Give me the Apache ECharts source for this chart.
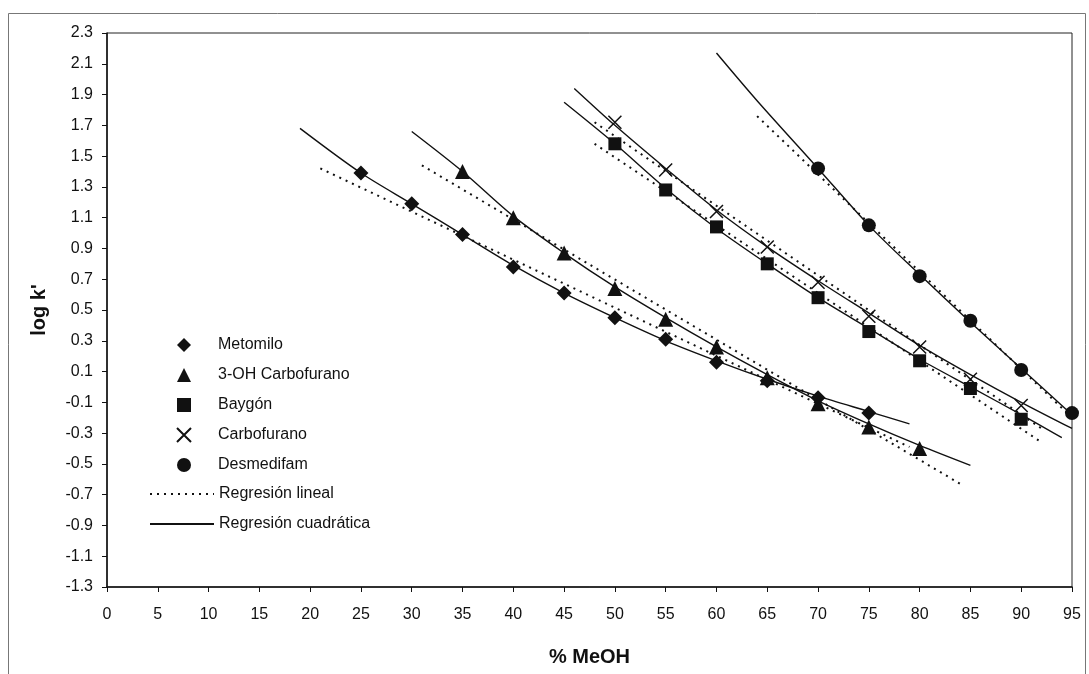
<!DOCTYPE html>
<html>
<head>
<meta charset="utf-8">
<script src="https://cdn.jsdelivr.net/npm/echarts@6/dist/echarts.min.js"></script>
<style>
  html, body { margin: 0; padding: 0; background: #fff; }
  #chart { width: 1089px; height: 674px; }
</style>
</head>
<body>
<div id="chart"></div>
<script>
  // % MeOH en el eje x, log k' en el eje y
  var xTicks = [0, 5, 10, 15, 20, 25, 30, 35, 40, 45, 50, 55, 60, 65, 70, 75, 80, 85, 90, 95]
  var yTicks = [-1.3, -1.1, -0.9, -0.7, -0.5, -0.3, -0.1, 0.1, 0.3, 0.5, 0.7, 0.9, 1.1, 1.3, 1.5, 1.7, 1.9, 2.1, 2.3]

  // puntos experimentales
  var metomiloX = [25, 30, 35, 40, 45, 50, 55, 60, 65, 70, 75]
  var metomiloY = [1.39, 1.19, 0.99, 0.78, 0.61, 0.45, 0.31, 0.16, 0.04, -0.07, -0.17]
  var ohCarboX = [35, 40, 45, 50, 55, 60, 65, 70, 75, 80]
  var ohCarboY = [1.40, 1.10, 0.87, 0.64, 0.44, 0.26, 0.06, -0.11, -0.26, -0.40]
  var baygonX = [50, 55, 60, 65, 70, 75, 80, 85, 90]
  var baygonY = [1.58, 1.28, 1.04, 0.80, 0.58, 0.36, 0.17, -0.01, -0.21]
  var carboX = [50, 55, 60, 65, 70, 75, 80, 85, 90]
  var carboY = [1.72, 1.41, 1.14, 0.91, 0.68, 0.46, 0.26, 0.05, -0.12]
  var desmeX = [70, 75, 80, 85, 90, 95]
  var desmeY = [1.42, 1.05, 0.72, 0.43, 0.11, -0.17]

  // regresión lineal (extremos)
  var metomiloLinX = [21, 79]
  var metomiloLinY = [1.42, -0.39]
  var ohCarboLinX = [31, 84]
  var ohCarboLinY = [1.44, -0.63]
  var baygonLinX = [48, 92]
  var baygonLinY = [1.58, -0.36]
  var carboLinX = [48, 92]
  var carboLinY = [1.72, -0.27]
  var desmeLinX = [64, 95]
  var desmeLinY = [1.76, -0.20]

  // regresión cuadrática (puntos leídos a lo largo de la curva)
  var metomiloCuadX = [19, 25, 30, 35, 40, 45, 50, 55, 60, 65, 70, 75, 79]
  var metomiloCuadY = [1.68, 1.39, 1.19, 0.99, 0.79, 0.61, 0.45, 0.30, 0.17, 0.05, -0.06, -0.16, -0.24]
  var ohCarboCuadX = [30, 35, 40, 45, 50, 55, 60, 65, 70, 75, 80, 85]
  var ohCarboCuadY = [1.66, 1.40, 1.11, 0.87, 0.65, 0.45, 0.26, 0.08, -0.09, -0.24, -0.38, -0.51]
  var baygonCuadX = [45, 50, 55, 60, 65, 70, 75, 80, 85, 90, 94]
  var baygonCuadY = [1.85, 1.58, 1.29, 1.03, 0.80, 0.58, 0.38, 0.18, 0.00, -0.18, -0.33]
  var carboCuadX = [46, 50, 55, 60, 65, 70, 75, 80, 85, 90, 95]
  var carboCuadY = [1.94, 1.70, 1.42, 1.15, 0.91, 0.69, 0.48, 0.27, 0.08, -0.10, -0.27]
  var desmeCuadX = [60, 64, 70, 75, 80, 85, 90, 95]
  var desmeCuadY = [2.17, 1.86, 1.42, 1.05, 0.73, 0.42, 0.12, -0.18]

  var fontFamily = '"Liberation Sans", Arial, sans-serif'
  var ink = '#111'

  function pares (xs, ys) {
    return xs.map(function (x, i) { return [x, ys[i]] })
  }

  function puntos (name, symbol, size, xs, ys, cruz) {
    return {
      name: name,
      type: 'scatter',
      symbol: symbol,
      symbolSize: size,
      itemStyle: cruz
        ? { color: 'transparent', borderColor: ink, borderWidth: 1.5, opacity: 1 }
        : { color: ink, opacity: 1 },
      z: 5,
      data: pares(xs, ys)
    }
  }

  function linea (name, xs, ys, dotted) {
    return {
      name: name,
      type: 'line',
      symbol: 'none',
      smooth: dotted ? false : 0.3,
      lineStyle: {
        color: ink,
        width: dotted ? 2 : 1.4,
        type: dotted ? [2, 5] : 'solid'
      },
      // sin círculo en el icono de la leyenda
      itemStyle: { color: 'transparent', borderColor: 'transparent' },
      z: 3,
      data: pares(xs, ys)
    }
  }

  var lin = 'Regresión lineal'
  var cuad = 'Regresión cuadrática'
  var legendText = { fontSize: 16, color: ink, fontFamily: fontFamily }

  var chart = echarts.init(document.getElementById('chart'))
  chart.setOption({
    animation: false,
    backgroundColor: '#fff',
    textStyle: { fontFamily: fontFamily },
    graphic: [{
      type: 'rect',
      shape: { x: 8.5, y: 13.5, width: 1077, height: 700 },
      style: { fill: 'none', stroke: '#777', lineWidth: 1 },
      silent: true
    }],
    grid: {
      left: 107,
      right: 17,
      top: 33,
      bottom: 87,
      show: true,
      borderColor: '#222',
      borderWidth: 1
    },
    legend: [{
      orient: 'vertical',
      left: 171,
      top: 332,
      itemWidth: 14,
      itemHeight: 14,
      itemGap: 14,
      textStyle: Object.assign({ padding: [0, 0, 0, 22] }, legendText),
      data: ['Metomilo', '3-OH Carbofurano', 'Baygón', 'Carbofurano', 'Desmedifam']
    }, {
      orient: 'vertical',
      left: 144,
      top: 481,
      itemWidth: 64,
      itemHeight: 14,
      itemGap: 14,
      textStyle: legendText,
      data: [lin, cuad]
    }],
    xAxis: {
      type: 'value',
      min: 0,
      max: 95,
      interval: 5,
      name: '% MeOH',
      nameLocation: 'middle',
      nameGap: 60,
      nameTextStyle: { fontSize: 20, fontWeight: 'bold', color: ink, fontFamily: fontFamily },
      axisLine: { onZero: false, lineStyle: { color: ink, width: 1.5 } },
      axisTick: { length: 5, lineStyle: { color: ink } },
      axisLabel: { fontSize: 16, color: ink, margin: 20, fontFamily: fontFamily,
        customValues: xTicks },
      splitLine: { show: false }
    },
    yAxis: {
      type: 'value',
      min: -1.3,
      max: 2.3,
      name: "log k'",
      nameLocation: 'middle',
      nameGap: 58,
      nameTextStyle: { fontSize: 20, fontWeight: 'bold', color: ink, fontFamily: fontFamily },
      axisLine: { show: true, onZero: false, lineStyle: { color: ink, width: 1.5 } },
      axisTick: { show: true, length: 5, lineStyle: { color: ink }, customValues: yTicks },
      axisLabel: {
        fontSize: 16, color: ink, margin: 14, fontFamily: fontFamily,
        customValues: yTicks,
        formatter: function (v) { return v.toFixed(1) }
      },
      splitLine: { show: false }
    },
    series: [
      linea(lin, metomiloLinX, metomiloLinY, true),
      linea(lin, ohCarboLinX, ohCarboLinY, true),
      linea(lin, baygonLinX, baygonLinY, true),
      linea(lin, carboLinX, carboLinY, true),
      linea(lin, desmeLinX, desmeLinY, true),
      linea(cuad, metomiloCuadX, metomiloCuadY, false),
      linea(cuad, ohCarboCuadX, ohCarboCuadY, false),
      linea(cuad, baygonCuadX, baygonCuadY, false),
      linea(cuad, carboCuadX, carboCuadY, false),
      linea(cuad, desmeCuadX, desmeCuadY, false),
      puntos('Metomilo', 'diamond', 15, metomiloX, metomiloY),
      puntos('3-OH Carbofurano', 'triangle', 15, ohCarboX, ohCarboY),
      puntos('Baygón', 'rect', 13, baygonX, baygonY),
      puntos('Carbofurano', 'path://M0,0L10,10M10,0L0,10', 13, carboX, carboY, true),
      puntos('Desmedifam', 'circle', 14, desmeX, desmeY)
    ]
  })
</script>
</body>
</html>
